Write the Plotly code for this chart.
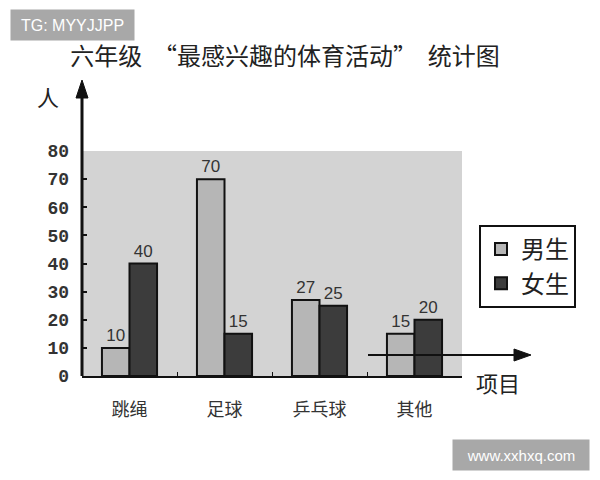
import plotly.graph_objects as go

categories = ["跳绳", "足球", "乒乓球", "其他"]
boys = [10, 70, 27, 15]
girls = [40, 15, 25, 20]
y_ticks = [0, 10, 20, 30, 40, 50, 60, 70, 80]

# plot area in pixels: x 82..462, y 151..376
L, R, T, B = 82, 462, 151, 376
W, H = R - L, B - T


def px(x):
    return (x - L) / W


def py(y):
    return 1 - (y - T) / H


FONT = "Noto Sans CJK SC"

fig = go.Figure()
fig.add_trace(go.Bar(
    name="男生", x=categories, y=boys, text=boys, textposition="outside",
    marker=dict(color="#b6b6b6", line=dict(color="#111", width=2)),
    textfont=dict(family="Liberation Sans", size=17, color="#333"),
    cliponaxis=False,
))
fig.add_trace(go.Bar(
    name="女生", x=categories, y=girls, text=girls, textposition="outside",
    marker=dict(color="#3c3c3c", line=dict(color="#111", width=2)),
    textfont=dict(family="Liberation Sans", size=17, color="#333"),
    cliponaxis=False,
))

shapes = [
    # y axis arrow
    dict(type="line", xref="paper", yref="paper", x0=0, x1=0, y0=0, y1=py(92),
         line=dict(color="#111", width=3)),
    dict(type="path", xref="paper", yref="paper",
         path=f"M {px(L-6)} {py(98)} L {px(L)} {py(80)} L {px(L+6)} {py(98)} Z",
         fillcolor="#111", line=dict(color="#111", width=1)),
    # x arrow
    dict(type="line", xref="paper", yref="paper", x0=px(368), x1=px(518), y0=py(355), y1=py(355),
         line=dict(color="#111", width=2)),
    dict(type="path", xref="paper", yref="paper",
         path=f"M {px(514)} {py(349)} L {px(531)} {py(355)} L {px(514)} {py(361)} Z",
         fillcolor="#111", line=dict(color="#111", width=1)),
]

annotations = [
    dict(text="人", xref="paper", yref="paper", x=px(48), y=py(96), showarrow=False,
         xanchor="center", yanchor="middle",
         font=dict(family=FONT, size=22, color="#222")),
    dict(text="项目", xref="paper", yref="paper", x=px(498), y=py(382), showarrow=False,
         xanchor="center", yanchor="middle",
         font=dict(family=FONT, size=22, color="#222")),
    dict(text="TG: MYYJJPP", xref="paper", yref="paper", x=px(72.5), y=py(25), showarrow=False,
         xanchor="center", yanchor="middle",
         bgcolor="#a8a8a8", width=119, height=26, borderpad=2,
         font=dict(family="Liberation Sans", size=16, color="white")),
    dict(text="www.xxhxq.com", xref="paper", yref="paper", x=px(521), y=py(455), showarrow=False,
         xanchor="center", yanchor="middle",
         bgcolor="#a8a8a8", width=132, height=26, borderpad=2,
         font=dict(family="Liberation Sans", size=15, color="white")),
]

fig.update_layout(
    width=600, height=480,
    margin=dict(l=L, r=600 - R, t=T, b=480 - B),
    paper_bgcolor="white",
    plot_bgcolor="#d3d3d3",
    barmode="group", bargap=0.42, bargroupgap=0,
    title=dict(text="六年级  “最感兴趣的体育活动”  统计图", x=285 / 600, xanchor="center",
               y=1 - 57 / 480, yanchor="middle",
               font=dict(family=FONT, size=24, color="#222")),
    showlegend=True,
    legend=dict(x=px(479), y=py(225), xanchor="left", yanchor="top",
                bordercolor="#111", borderwidth=2, bgcolor="white",
                font=dict(family=FONT, size=24, color="#222"),
                itemwidth=30),
    shapes=shapes,
    annotations=annotations,
    xaxis=dict(showgrid=False, showline=True, linecolor="#111", linewidth=2,
               ticks="inside", tickson="boundaries", ticklen=4, tickcolor="#111",
               tickfont=dict(family=FONT, size=18, color="#333"),
               ticklabelstandoff=16),
    yaxis=dict(range=[0, 80], tickvals=y_ticks, showgrid=False, zeroline=False,
               showline=False, ticks="inside", ticklen=5, tickcolor="#111", tickwidth=2,
               tickfont=dict(family="Liberation Mono", size=18, color="#333", weight="bold"),
               ticklabelstandoff=12),
)

fig.write_html("out.html", config={"displayModeBar": False},
               post_script="document.body.style.margin='0';")
